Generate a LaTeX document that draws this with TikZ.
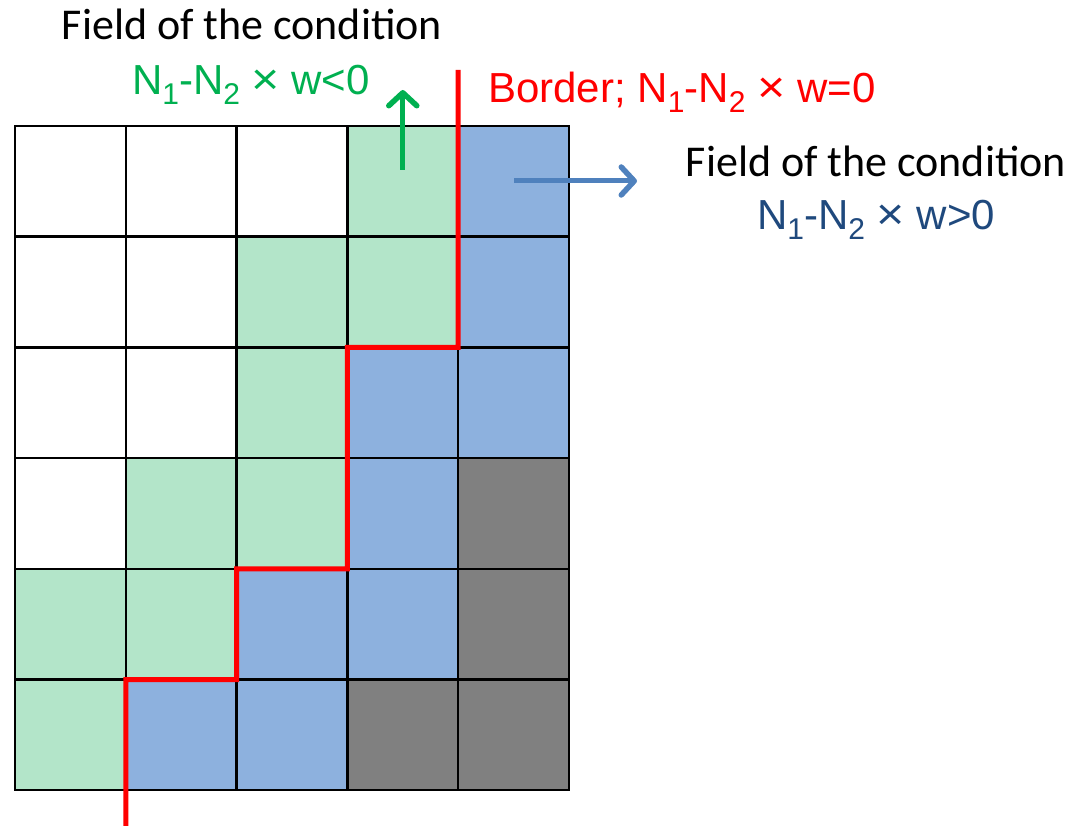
\documentclass[tikz,border=0pt]{standalone}
\usepackage{fontspec}
\usepackage{graphicx}
\setmainfont{Carlito}
\newfontfamily\arialf{Liberation Sans}
\usetikzlibrary{arrows.meta}
\definecolor{cellw}{HTML}{FFFFFF}
\definecolor{cellg}{HTML}{B3E5C9}
\definecolor{cellb}{HTML}{8DB1DE}
\definecolor{celld}{HTML}{808080}
\definecolor{txtgreen}{HTML}{00B050}
\definecolor{txtblue}{HTML}{1F497D}
\definecolor{arrblue}{HTML}{4F81BD}
\newcommand{\sbx}[1]{\raisebox{-0.22em}{\fontsize{30}{30}\selectfont #1}}
\newcommand{\tms}{\scalebox{1.15}[1.05]{×}}
\begin{document}
\begin{tikzpicture}[x=1pt,y=-1pt,
  cell/.style={draw=black, line width=2.4pt, minimum width=110.8pt, minimum height=110.7pt, inner sep=0pt, outer sep=0pt},
  title/.style={font=\fontsize{44}{52}\selectfont, anchor=base, inner sep=0pt},
  formula/.style={font=\arialf\fontsize{42}{48}\selectfont, inner sep=0pt},
  border/.style={draw=red, line width=5pt, line join=miter},
  garrow/.style={draw=txtgreen, line width=5pt, -{Straight Barb[length=13pt,width=28pt,line width=5.5pt,round]}},
  barrow/.style={draw=arrblue, line width=5pt, -{Straight Barb[length=13pt,width=28pt,line width=5.5pt,round]}}]
\useasboundingbox (0,0) rectangle (1085,826);
\foreach \r/\list in {0/{w,w,w,g,b},1/{w,w,g,g,b},2/{w,w,g,b,b},3/{w,g,g,b,d},4/{g,g,b,b,d},5/{g,b,b,d,d}} {
  \foreach \k [count=\c from 0] in \list {
    \node[cell, fill=cell\k] (c\r\c) at ({15+110.8*(\c+0.5)},{126+110.7*(\r+0.5)}) {};
  }
}
\coordinate (btop) at (458.2,70);
\coordinate (bbot) at (125.8,826);
\draw[border] (btop) -- (c14.south west) -- (c13.south west) -- (c33.south west) -- (c32.south west) -- (c42.south west) -- (c41.south west) -- (bbot);
\coordinate (ga1) at (402.8,170);
\coordinate (ga2) at (402.8,90);
\draw[garrow] (ga1) -- (ga2);
\coordinate (ba1) at (514,181);
\coordinate (ba2) at (637,181);
\draw[barrow] (ba1) -- (ba2);
\node[title] (t1) at (252,40) {Field of the condition};
\node[formula, anchor=base, text=txtgreen] (t2) at (251,95) {N\sbx{1}-N\sbx{2} \tms{} w<0};
\node[formula, anchor=base west, text=red] (t3) at (488,103) {Border; N\sbx{1}-N\sbx{2} \tms{} w=0};
\node[title] (t4) at (876,177) {Field of the condition};
\node[formula, anchor=base, text=txtblue] (t5) at (876,230) {N\sbx{1}-N\sbx{2} \tms{} w>0};
\end{tikzpicture}
\end{document}
